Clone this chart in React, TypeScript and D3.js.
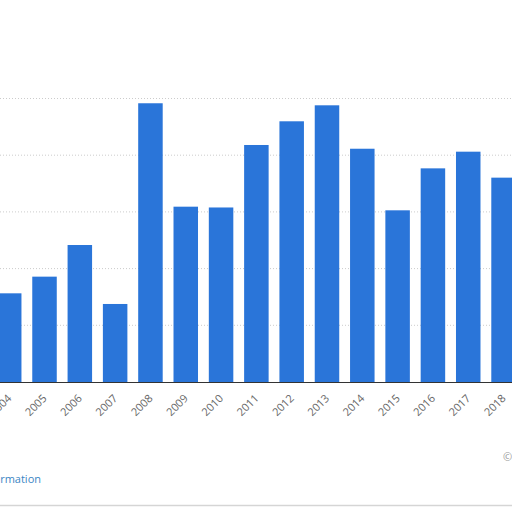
import React from "react";
import * as d3 from "d3";

const years = ["2004","2005","2006","2007","2008","2009","2010","2011","2012","2013","2014","2015","2016","2017","2018"];
const values = [7.82, 9.29, 12.08, 6.88, 24.58, 15.46, 15.39, 20.9, 22.99, 24.4, 20.57, 15.14, 18.84, 20.31, 18.02];
const yTicks = [0, 5, 10, 15, 20, 25];

export default function App() {
  const W = 512, H = 512;
  const x = d3.scaleBand<string>().domain(years).range([-8.45, 521.2]).paddingInner(0.306).paddingOuter(0.153);
  const y = d3.scaleLinear().domain([0, 25]).range([382, 98.5]);
  return (
    <svg width={W} height={H} style={{ position: "absolute", left: 0, top: 0, background: "#fff" }}
      fontFamily="'Open Sans', sans-serif">
      <rect x={0} y={0} width={W} height={H} fill="#fff" />
      {yTicks.slice(1).map(t => (
        <line key={t} x1={0} x2={W} y1={y(t)} y2={y(t)} stroke="#ccc" strokeWidth={1} strokeDasharray="1,2" />
      ))}
      {years.map((yr, i) => (
        <rect key={yr} x={x(yr)} y={y(values[i])} width={x.bandwidth()} height={y(0) - y(values[i])} fill="#2a75d9" />
      ))}
      <line x1={0} x2={W} y1={y(0) + 0.5} y2={y(0) + 0.5} stroke="#333" strokeWidth={1} />
      {years.map(yr => {
        const cx = (x(yr) as number) + x.bandwidth() / 2 + 3;
        const ty = 399;
        return (
          <text key={yr} x={cx} y={ty} transform={`rotate(-45 ${cx} ${ty})`} textAnchor="end"
            fontSize={11} fill="#666">{yr}</text>
        );
      })}
      <text x={41} y={483} textAnchor="end" fontSize={11} fill="#3b86c4">Additional Information</text>
      <text x={503} y={461} fontSize={11} fill="#999">© Statista 2019</text>
      <line x1={0} x2={W} y1={505.5} y2={505.5} stroke="#d5d5d5" strokeWidth={1.5} />
    </svg>
  );
}
